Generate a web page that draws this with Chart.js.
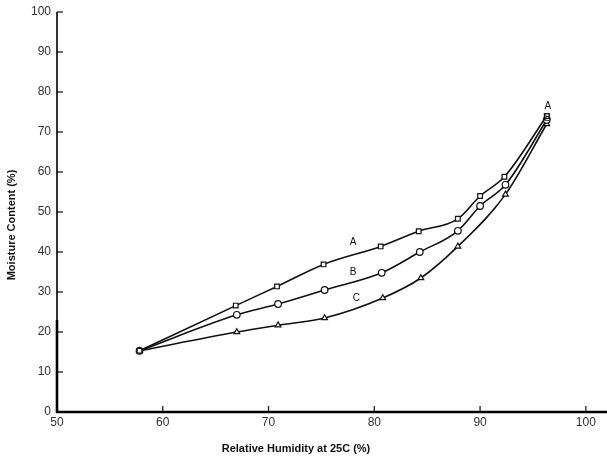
<!DOCTYPE html>
<html>
<head>
<meta charset="utf-8">
<script src="https://cdn.jsdelivr.net/npm/chart.js@4.4.1/dist/chart.umd.min.js"></script>
<style>
html,body{margin:0;padding:0;background:#fff;}
#wrap{width:607px;height:459px;position:relative;}
</style>
</head>
<body>
<div id="wrap"><canvas id="c" width="607" height="459"></canvas></div>
<script>
// Data
const rhA = [57.8, 66.9, 70.8, 75.2, 80.6, 84.2, 87.9, 90.0, 92.3, 96.3];
const mcA = [15.3, 26.6, 31.4, 36.9, 41.4, 45.2, 48.3, 54.0, 58.8, 74.0];
const rhB = [57.8, 67.0, 70.9, 75.3, 80.7, 84.3, 87.9, 90.0, 92.4, 96.3];
const mcB = [15.3, 24.3, 27.0, 30.5, 34.8, 40.0, 45.3, 51.5, 56.8, 73.0];
const rhC = [57.8, 67.0, 70.9, 75.3, 80.8, 84.4, 87.9, 92.4, 96.3];
const mcC = [15.3, 20.0, 21.7, 23.5, 28.5, 33.5, 41.4, 54.4, 72.0];
const xTicks = [50, 60, 70, 80, 90, 100];
const yTicks = [0, 10, 20, 30, 40, 50, 60, 70, 80, 90, 100];
const curveLabels = ['A', 'B', 'C', 'A', 'B'];
const curveLabelX = [78.0, 78.0, 78.3, 96.4, 96.4];
const curveLabelY = [42.5, 35.0, 28.5, 76.5, 73.5];
const xTitle = 'Relative Humidity at 25C (%)';
const yTitle = 'Moisture Content (%)';

const pts = (xs, ys) => xs.map((x, i) => ({x: x, y: ys[i]}));

const ds = (label, xs, ys, style) => ({
  label: label,
  data: pts(xs, ys),
  borderColor: '#111',
  borderWidth: 1.6,
  backgroundColor: '#fff',
  pointBackgroundColor: '#fff',
  pointBorderColor: '#111',
  pointBorderWidth: 1.2,
  pointRadius: 3.3,
  pointStyle: style,
  cubicInterpolationMode: 'monotone',
  fill: false
});

const decor = {
  id: 'decor',
  afterDraw(chart) {
    const ctx = chart.ctx;
    const xs = chart.scales.x, ys = chart.scales.y;
    const ca = chart.chartArea;
    ctx.save();
    // inward tick marks
    ctx.strokeStyle = '#222';
    ctx.lineWidth = 1.3;
    yTicks.forEach(v => {
      if (v === 0) return;
      const p = ys.getPixelForValue(v);
      ctx.beginPath(); ctx.moveTo(ca.left, p); ctx.lineTo(ca.left + 6, p); ctx.stroke();
    });
    xTicks.forEach(v => {
      if (v === 50) return;
      const p = xs.getPixelForValue(v);
      ctx.beginPath(); ctx.moveTo(p, ca.bottom); ctx.lineTo(p, ca.bottom - 6); ctx.stroke();
    });
    // axis lines
    ctx.strokeStyle = '#000';
    ctx.lineWidth = 1.6;
    ctx.beginPath(); ctx.moveTo(ca.left, ca.top); ctx.lineTo(ca.left, ca.bottom); ctx.stroke();
    ctx.lineWidth = 2.6;
    ctx.beginPath(); ctx.moveTo(ca.left, ys.getPixelForValue(23)); ctx.lineTo(ca.left, ca.bottom + 1); ctx.stroke();
    ctx.beginPath(); ctx.moveTo(ca.left - 1, ca.bottom); ctx.lineTo(ca.right, ca.bottom); ctx.stroke();
    // curve letters
    ctx.fillStyle = '#111';
    ctx.font = '10px "Liberation Sans", Arial, sans-serif';
    ctx.textAlign = 'center';
    ctx.textBaseline = 'middle';
    curveLabels.forEach((t, i) => {
      ctx.fillText(t, xs.getPixelForValue(curveLabelX[i]), ys.getPixelForValue(curveLabelY[i]));
    });
    // axis titles
    ctx.font = 'bold 11px "Liberation Sans", Arial, sans-serif';
    ctx.fillText(xTitle, 296, 449);
    ctx.translate(12, 225);
    ctx.rotate(-Math.PI / 2);
    ctx.fillText(yTitle, 0, 0);
    ctx.restore();
  }
};

new Chart(document.getElementById('c'), {
  type: 'line',
  data: {
    datasets: [
      ds('A', rhA, mcA, 'rect'),
      ds('B', rhB, mcB, 'circle'),
      ds('C', rhC, mcC, 'triangle')
    ]
  },
  options: {
    responsive: false,
    animation: false,
    layout: {autoPadding: false, padding: {top: 12, right: 0, left: 0, bottom: 0}},
    plugins: {legend: {display: false}, tooltip: {enabled: false}},
    scales: {
      x: {
        type: 'linear',
        min: 50, max: 102,
        afterFit(s) { s.height = 47; s.paddingRight = 0; s.paddingLeft = 0; },
        afterBuildTicks(s) { s.ticks = xTicks.map(v => ({value: v})); },
        grid: {display: false, drawTicks: false},
        border: {display: false},
        ticks: {
          padding: 3,
          color: '#333',
          font: {family: '"Liberation Sans", Arial, sans-serif', size: 12},
          maxRotation: 0,
          autoSkip: false
        }
      },
      y: {
        type: 'linear',
        min: 0, max: 100,
        afterFit(s) { s.width = 57; s.paddingTop = 0; s.paddingBottom = 0; },
        afterBuildTicks(s) { s.ticks = yTicks.map(v => ({value: v})); },
        grid: {display: false, drawTicks: false},
        border: {display: false},
        ticks: {
          padding: 6,
          color: '#333',
          font: {family: '"Liberation Sans", Arial, sans-serif', size: 12},
          autoSkip: false
        }
      }
    }
  },
  plugins: [decor]
});
</script>
</body>
</html>
